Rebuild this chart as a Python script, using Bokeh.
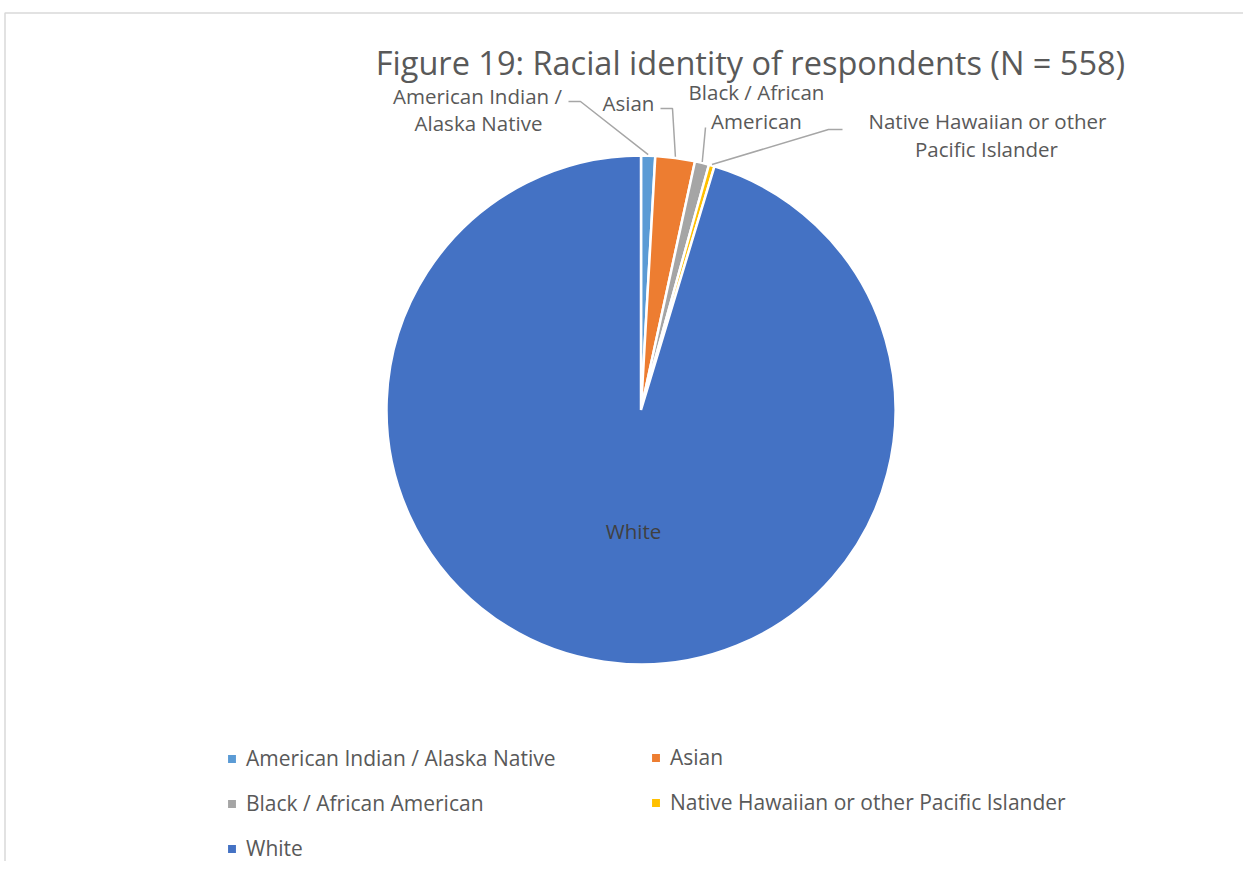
import math
from bokeh.plotting import figure
from bokeh.models import ColumnDataSource, Range1d, Legend, LegendItem, Label
from bokeh.core.properties import value
from bokeh.embed import file_html
from bokeh.resources import INLINE

# ---------------- data ----------------
title_text = "Figure 19: Racial identity of respondents (N = 558)"
categories = ["American Indian / Alaska Native", "Asian", "Black / African American",
              "Native Hawaiian or other Pacific Islander", "White"]
counts = [5, 14, 5, 2, 532]
colors = ["#5B9BD5", "#ED7D31", "#A5A5A5", "#FFC000", "#4472C4"]
# wrapped data-label lines as shown on the chart
label_lines = [["American Indian /", "Alaska Native"], ["Asian"], ["Black / African", "American"],
               ["Native Hawaiian or other", "Pacific Islander"], ["White"]]

# ---------------- layout (screen px of the picture) ----------------
W, H = 1243, 861
FONT = "Open Sans"
GREY_TXT = "#595959"

def sx(px):
    return px

def sy(py):
    return H - py

CX, CY, R = sx(640.5), sy(409.5), 254.5

# label centre positions (screen px) for each line
label_pos = [[(477, 95), (478, 122)], [(628, 102)], [(756, 91), (756, 120)],
             [(987, 120), (986, 148)], [(633, 530)]]
# leader elbows (screen px) from label side toward the slice
leader_pts = [[(568, 101), (580, 101)], [(660, 108), (672, 108)], [(705, 127)],
              [(842, 129), (828, 129)], None]

total = sum(counts)
cum = [0]
for c in counts:
    cum.append(cum[-1] + c)
start = [math.pi / 2 - 2 * math.pi * cum[i] / total for i in range(len(counts))]
end = [math.pi / 2 - 2 * math.pi * cum[i + 1] / total for i in range(len(counts))]

src = ColumnDataSource(dict(cat=categories, count=counts, color=colors, start=start, end=end))

p = figure(width=W, height=H, output_backend="svg", toolbar_location=None,
           x_range=Range1d(0, W), y_range=Range1d(0, H),
           x_axis_location=None, y_axis_location=None, min_border=0,
           background_fill_color="white", border_fill_color="white")
p.grid.visible = False
p.outline_line_color = None

# chart-area border (top and left visible in the reference)
p.line(x=[sx(4.5), sx(4.5), W], y=[0, sy(12.5), sy(12.5)], line_color="#D9D9D9", line_width=1.5)

wedges = p.wedge(x=CX, y=CY, radius=R, start_angle="start", end_angle="end", direction="clock",
                 fill_color="color", line_color="white", line_width=2.5, source=src)

# leader lines
lx, ly = [], []
for i, pts in enumerate(leader_pts):
    if pts is None:
        continue
    mid = (start[i] + end[i]) / 2
    ax = CX + (R + 1) * math.cos(mid)
    ay = CY + (R + 1) * math.sin(mid)
    lx.append([sx(x) for x, _ in pts] + [ax])
    ly.append([sy(y) for _, y in pts] + [ay])
p.multi_line(xs=lx, ys=ly, line_color="#A6A6A6", line_width=1.5)

# data labels
tx, ty, tt, tc = [], [], [], []
for i, lines in enumerate(label_lines):
    for txt, (x, y) in zip(lines, label_pos[i]):
        tx.append(sx(x)); ty.append(sy(y)); tt.append(txt)
        tc.append("#404040" if categories[i] == "White" else GREY_TXT)
p.text(x=tx, y=ty, text=tt, text_color=tc, text_align="center", text_baseline="middle",
       text_font=value(FONT), text_font_size="20.5px")

# title
p.add_layout(Label(x=sx(750), y=sy(62), text=title_text, text_align="center", text_baseline="middle",
                   text_font=FONT, text_font_size="32.5px", text_color=GREY_TXT))

# legends (two columns)
def make_legend(idx, loc):
    items = [LegendItem(label=categories[i], renderers=[wedges], index=i) for i in idx]
    lg = Legend(items=items, location=loc, orientation="vertical",
                glyph_width=13, glyph_height=13, label_standoff=8, label_height=29, spacing=16,
                padding=0, margin=0, border_line_color=None, background_fill_alpha=0,
                label_text_font=FONT, label_text_font_size="21px", label_text_color=GREY_TXT)
    p.add_layout(lg, "center")

make_legend([0, 2, 4], (sx(225), H - 862.5))
make_legend([1, 3], (sx(649), H - 816.5))

open("out.html", "w").write(file_html(p, INLINE))
